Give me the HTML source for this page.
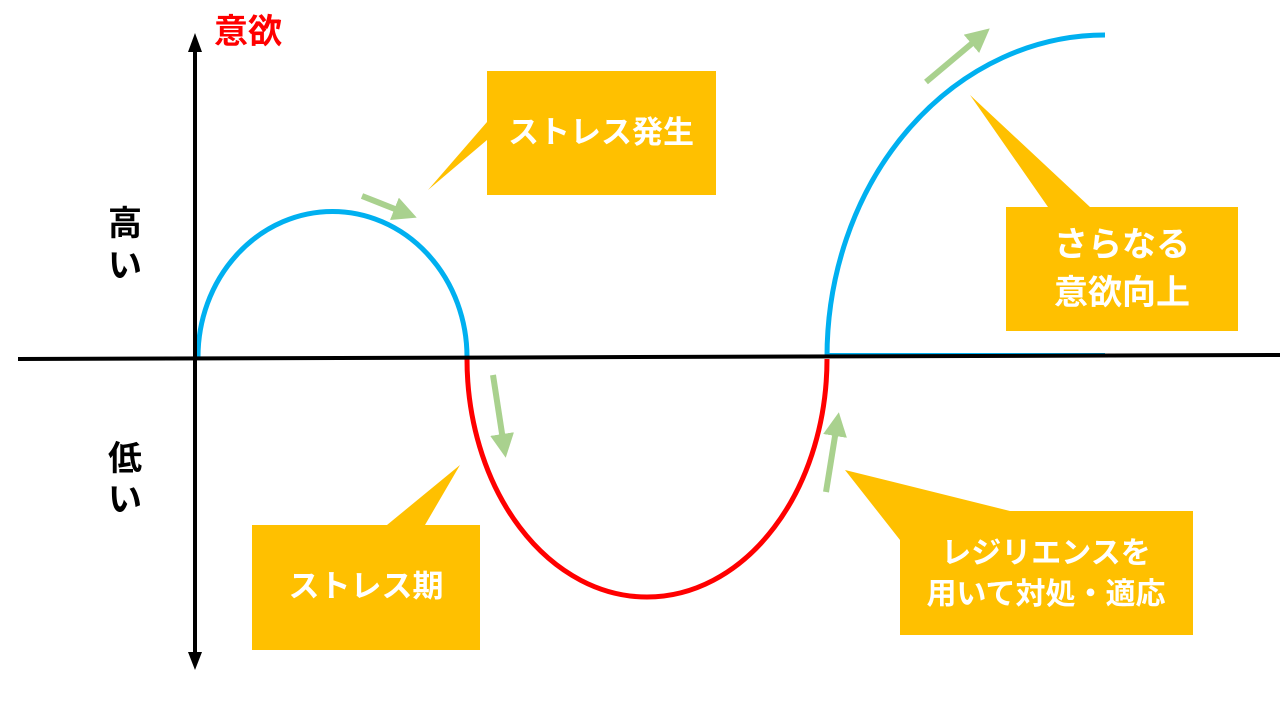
<!DOCTYPE html>
<html><head><meta charset="utf-8"><style>
html,body{margin:0;padding:0;background:#fff;width:1280px;height:720px;overflow:hidden}
svg{display:block}
text{font-family:"Liberation Sans","Noto Sans CJK JP",sans-serif;font-weight:bold}
</style></head><body>
<svg width="1280" height="720" viewBox="0 0 1280 720" xmlns="http://www.w3.org/2000/svg">
<defs>
<marker id="ah" markerWidth="4" markerHeight="4" refX="1" refY="2" orient="auto" markerUnits="strokeWidth"><path d="M0,0 L4,2 L0,4 z" fill="#A9D18E"/></marker>
</defs>
<path d="M487,71 H716 V195 H487 V140 L428,190 L487,122 Z" fill="#FFC000"/>
<text x="601" y="143" fill="#fff" font-size="31" text-anchor="middle">ストレス発生</text>
<path d="M252,525 H387 L460,465 L425,525 H480 V650 H252 Z" fill="#FFC000"/>
<text x="366" y="597" fill="#fff" font-size="31" text-anchor="middle">ストレス期</text>
<path d="M1006,207 H1238 V331 H1006 V207 H1048 L970,95 L1090,207" fill="#FFC000"/>
<text x="1122" y="256" fill="#fff" font-size="34" text-anchor="middle">さらなる</text>
<text x="1122" y="304" fill="#fff" font-size="34" text-anchor="middle">意欲向上</text>
<path d="M900,511 H1193 V635 H900 V540 L845,470 L1010,511 Z" fill="#FFC000"/>
<text x="1046" y="563" fill="#fff" font-size="30" text-anchor="middle">レジリエンスを</text>
<text x="1046" y="604" fill="#fff" font-size="30" text-anchor="middle">用いて対処・適応</text>
<path d="M198,357 A134,145 0 0 1 467,357" fill="none" stroke="#00B0F0" stroke-width="5"/>
<path d="M467,359 A180,238 0 0 0 827,359" fill="none" stroke="#FF0000" stroke-width="5"/>
<path d="M827,357 A278,322 0 0 1 1105,35" fill="none" stroke="#00B0F0" stroke-width="5"/>
<line x1="827" y1="354" x2="1105" y2="354" stroke="#00B0F0" stroke-width="2"/>
<line x1="18" y1="359" x2="1280" y2="355" stroke="#000" stroke-width="4"/>
<line x1="195" y1="50" x2="195" y2="655" stroke="#000" stroke-width="4"/>
<path d="M188,52 L195,33 L202,52 Z" fill="#000"/>
<path d="M188,652 L195,670 L202,652 Z" fill="#000"/>
<line x1="362" y1="196" x2="400" y2="211" stroke="#A9D18E" stroke-width="6" marker-end="url(#ah)"/>
<line x1="493" y1="375" x2="503" y2="440" stroke="#A9D18E" stroke-width="6" marker-end="url(#ah)"/>
<line x1="826" y1="492" x2="836" y2="430" stroke="#A9D18E" stroke-width="6" marker-end="url(#ah)"/>
<line x1="926" y1="82" x2="976" y2="40" stroke="#A9D18E" stroke-width="6" marker-end="url(#ah)"/>
<text x="214" y="43" fill="#FF0000" font-size="34">意欲</text>
<text x="125" y="235" fill="#000" font-size="34" text-anchor="middle">高</text>
<text x="125" y="277" fill="#000" font-size="34" text-anchor="middle">い</text>
<text x="125" y="470" fill="#000" font-size="34" text-anchor="middle">低</text>
<text x="125" y="511" fill="#000" font-size="34" text-anchor="middle">い</text>
</svg>
</body></html>
